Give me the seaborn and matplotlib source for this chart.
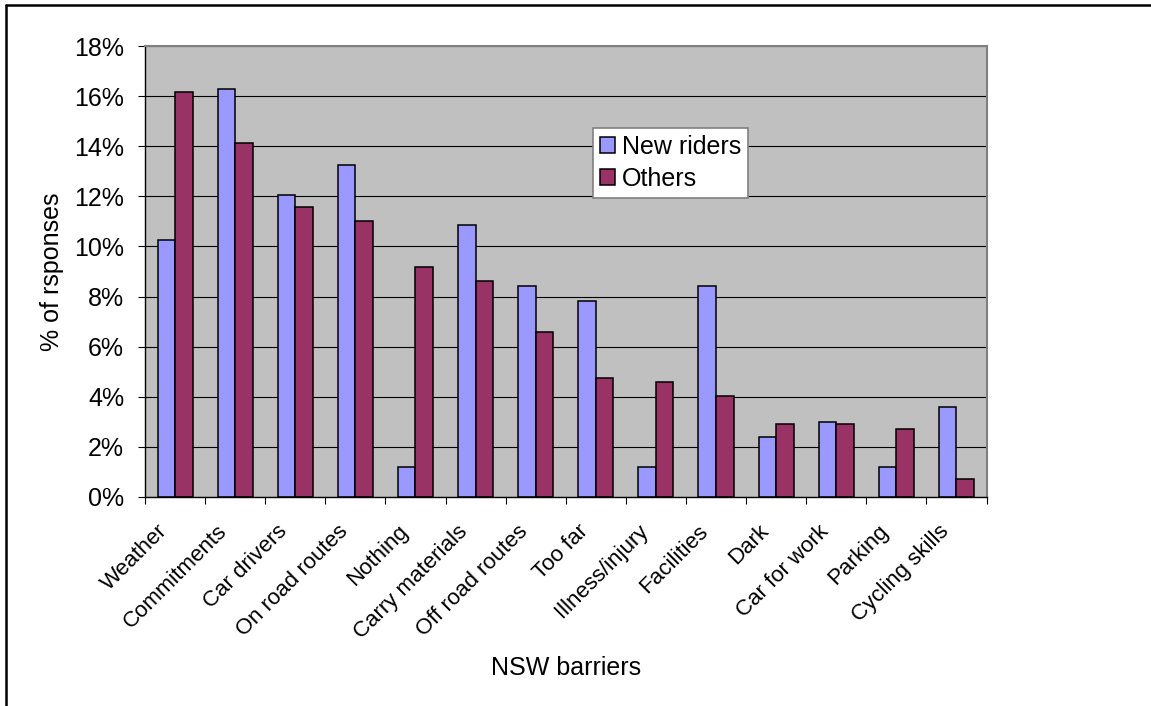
import matplotlib
matplotlib.use("Agg")
import matplotlib.pyplot as plt
import matplotlib.transforms as mtransforms
from matplotlib.lines import Line2D
from matplotlib.ticker import FuncFormatter, FixedLocator
import numpy as np
import pandas as pd
import seaborn as sns

# Barriers to cycling reported in NSW, share of responses (%)
barriers = ["Weather", "Commitments", "Car drivers", "On road routes", "Nothing",
            "Carry materials", "Off road routes", "Too far", "Illness/injury",
            "Facilities", "Dark", "Car for work", "Parking", "Cycling skills"]
new_riders = [10.24, 16.27, 12.05, 13.25, 1.20, 10.84, 8.43, 7.83, 1.20, 8.43,
              2.41, 3.01, 1.20, 3.61]
others = [16.16, 14.12, 11.56, 11.00, 9.17, 8.62, 6.59, 4.75, 4.57, 4.02,
          2.92, 2.92, 2.73, 0.72]
series_names = ["New riders", "Others"]
series_colors = ["#9999FF", "#993366"]
y_ticks = [0, 2, 4, 6, 8, 10, 12, 14, 16, 18]

df = pd.DataFrame({
    "barrier": barriers * 2,
    "group": [series_names[0]] * len(barriers) + [series_names[1]] * len(barriers),
    "share": new_riders + others,
})

sns.set_style("white")
plt.rcParams["font.family"] = ["Liberation Sans", "DejaVu Sans"]
plt.rcParams["font.size"] = 18
plt.rcParams["text.color"] = "black"
plt.rcParams["axes.labelcolor"] = "black"
plt.rcParams["xtick.color"] = "black"
plt.rcParams["ytick.color"] = "black"

FS = 18
FS_CAT = 16
W, H = 1151, 706
fig = plt.figure(figsize=(W / 100, H / 100), dpi=100)
ax = fig.add_axes([145 / W, 1 - 497 / H, 841.5 / W, 451 / H])
ax.set_facecolor("#C0C0C0")

sns.barplot(data=df, x="barrier", y="share", hue="group", order=barriers,
            hue_order=series_names, palette=series_colors, width=35 / 60, gap=0,
            dodge=True, saturation=1, edgecolor="black", linewidth=1.1, ax=ax)

ax.set_xlim(-0.5, len(barriers) - 0.5)
ax.set_ylim(y_ticks[0], y_ticks[-1])
ax.yaxis.set_major_locator(FixedLocator(y_ticks))
ax.yaxis.set_major_formatter(FuncFormatter(lambda v, _: f"{v:.0f}%"))
ax.set_axisbelow(True)
ax.yaxis.grid(True, color="black", linewidth=0.8)
ax.xaxis.grid(False)

# category labels, with tick marks between the categories
ax.set_xticks(range(len(barriers)))
ax.set_xticklabels(barriers, rotation=45, ha="right", va="center",
                   rotation_mode="anchor", fontsize=FS_CAT, color="black")
ax.xaxis.set_minor_locator(FixedLocator(np.arange(-0.5, len(barriers), 1.0)))
ax.tick_params(axis="x", which="major", length=0, pad=22.5)
ax.tick_params(axis="x", which="minor", direction="out", length=5, width=0.8,
               color="black", bottom=True)
shift = mtransforms.ScaledTranslation(-11 / 100, 0, fig.dpi_scale_trans)
for lbl in ax.get_xticklabels():
    lbl.set_transform(lbl.get_transform() + shift)

ax.tick_params(axis="y", direction="out", length=5, width=0.8, color="black",
               pad=10, labelsize=FS, labelcolor="black", left=True)

ax.set_ylabel("% of rsponses", fontsize=FS, va="center", color="black")
ax.yaxis.set_label_coords((52 - 145) / 841.5, 0.5)
ax.set_xlabel("NSW barriers", fontsize=FS, va="baseline", color="black")
ax.xaxis.set_label_coords(0.5, (497 - 675) / 451)

for side in ("top", "right"):
    ax.spines[side].set_color("#808080")
    ax.spines[side].set_linewidth(1.5)
for side in ("left", "bottom"):
    ax.spines[side].set_color("black")
    ax.spines[side].set_linewidth(1.0)

handles, labels = ax.get_legend_handles_labels()
leg = ax.legend(handles, labels, loc="upper left",
                bbox_to_anchor=((593 - 145) / 841.5, (497 - 128) / 451),
                borderaxespad=0, frameon=True, fancybox=False,
                edgecolor="#808080", facecolor="white", framealpha=1,
                handlelength=0.6, handleheight=0.6, handletextpad=0.28,
                labelspacing=0.3, borderpad=0.28, fontsize=FS)
leg.get_frame().set_linewidth(1.2)
for t in leg.get_texts():
    t.set_color("black")

# chart frame along the left and top edges
fig.add_artist(Line2D([5.5 / W, 5.5 / W], [0, 1 - 4.5 / H],
                      transform=fig.transFigure, color="black", linewidth=1.8))
fig.add_artist(Line2D([5.5 / W, 1], [1 - 4.5 / H, 1 - 4.5 / H],
                      transform=fig.transFigure, color="black", linewidth=1.8))

fig.savefig("out.png", dpi=100)
